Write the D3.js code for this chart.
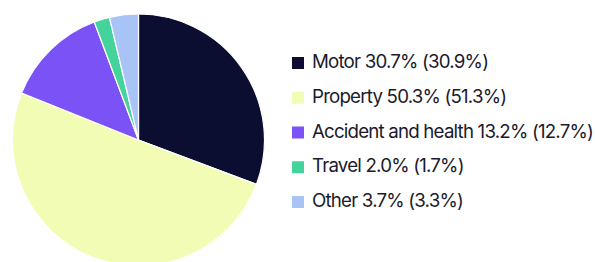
<!DOCTYPE html>
<html>
<head>
<meta charset="utf-8">
<script src="https://cdn.jsdelivr.net/npm/d3@7"></script>
<style>
  html, body { margin: 0; padding: 0; background: #ffffff; }
  svg { display: block; }
</style>
</head>
<body>
<script>
'use strict';

// data
const categories = ["Motor", "Property", "Accident and health", "Travel", "Other"];
const shares = [30.7, 50.3, 13.2, 2.0, 3.7];
const priorShares = [30.9, 51.3, 12.7, 1.7, 3.3];
const colors = ["#0b0e30", "#f2fcb4", "#7b52f6", "#44d39b", "#a8c4f7"];

const width = 595, height = 262;

const svg = d3.select("body")
  .append("svg")
  .attr("width", width)
  .attr("height", height);

// pie
const cx = 138.5, cy = 140, radius = 126;

const pie = d3.pie()
  .value((d) => d.value)
  .sort(null);

const arc = d3.arc()
  .innerRadius(0)
  .outerRadius(radius);

const rows = categories.map((c, i) => ({ name: c, value: shares[i], prior: priorShares[i], color: colors[i] }));

svg.append("g")
  .attr("transform", `translate(${cx},${cy})`)
  .selectAll("path")
  .data(pie(rows))
  .join("path")
  .attr("d", arc)
  .attr("fill", (d) => d.data.color)
  .attr("stroke", "#ffffff")
  .attr("stroke-width", 1.2)
  .attr("stroke-linejoin", "round");

// legend
const fmt = d3.format(".1f");
const legendY = d3.scalePoint()
  .domain(categories)
  .range([68, 207]);

const legend = svg.append("g")
  .selectAll("g")
  .data(rows)
  .join("g")
  .attr("transform", (d) => `translate(292,${legendY(d.name)})`);

legend.append("rect")
  .attr("x", 0)
  .attr("y", -11)
  .attr("width", 12)
  .attr("height", 12)
  .attr("fill", (d) => d.color);

legend.append("text")
  .attr("x", 20)
  .attr("y", 0)
  .style("font-family", "Inter, 'Noto Sans', sans-serif")
  .style("font-size", "18.7px")
  .style("letter-spacing", "-0.8px")
  .style("fill", "#1a1a2c")
  .text((d) => `${d.name} ${fmt(d.value)}% (${fmt(d.prior)}%)`);
</script>
</body>
</html>
